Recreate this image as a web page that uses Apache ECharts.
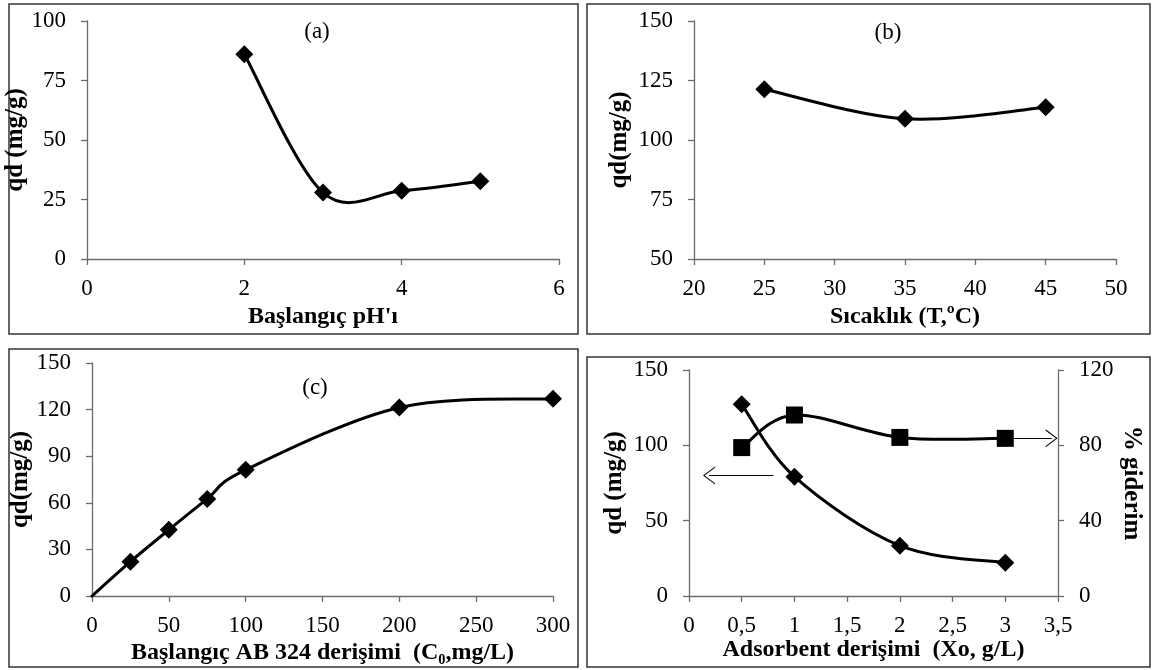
<!DOCTYPE html>
<html>
<head>
<meta charset="utf-8">
<script src="https://cdn.jsdelivr.net/npm/echarts@6/dist/echarts.min.js"></script>
<style>
  html, body { margin: 0; padding: 0; background: #fff; }
  #chart { width: 1155px; height: 670px; }
</style>
</head>
<body>
<div id="chart"></div>
<script>
// (a) başlangıç pH
const phX = [2, 3, 4, 5];
const phQ = [86, 27.9, 28.7, 32.7];
// (b) sıcaklık
const tempX = [25, 35, 45];
const tempQ = [121.3, 108.9, 113.8];
// (c) başlangıç AB 324 derişimi (first point has no marker)
const concX = [0, 25, 50, 75, 100, 200, 300];
const concQ = [0, 22.1, 42.6, 62.5, 81.2, 121.4, 127];
// (d) adsorbent derişimi
const doseX = [0.5, 1, 2, 3];
const doseQ = [127.2, 79.2, 33.4, 22.1];
const doseRemoval = [78.8, 96.1, 84.2, 83.7];

const font = 'Liberation Serif';
const axisColor = '#6b6b6b';
const comma = v => String(v).replace('.', ',');

function xAxis(grid, min, max, interval, name, gap, fmt) {
  return {
    type: 'value', gridIndex: grid, min, max, interval,
    name, nameLocation: 'middle', nameGap: gap,
    nameTextStyle: { fontFamily: font, fontWeight: 'bold', fontSize: 24, color: '#000' },
    axisLine: { onZero: false, lineStyle: { color: axisColor, width: 1.3 } },
    axisTick: { length: 6, lineStyle: { color: axisColor, width: 1.3 } },
    axisLabel: { fontFamily: font, fontSize: 23, color: '#000', margin: 18, formatter: fmt },
    splitLine: { show: false }
  };
}

function yAxis(grid, min, max, interval, name, gap, pos) {
  return {
    type: 'value', gridIndex: grid, min, max, interval, position: pos || 'left',
    name, nameLocation: 'middle', nameGap: gap,
    nameRotate: pos === 'right' ? -90 : 90,
    nameTextStyle: { fontFamily: font, fontWeight: 'bold', fontSize: 25, color: '#000' },
    axisLine: { show: true, onZero: false, lineStyle: { color: axisColor, width: 1.3 } },
    axisTick: { show: true, length: 6, lineStyle: { color: axisColor, width: 1.3 } },
    axisLabel: { fontFamily: font, fontSize: 23, color: '#000', margin: 21 },
    splitLine: { show: false }
  };
}

function pairs(xs, ys) {
  return xs.map((x, i) => [x, ys[i]]);
}

// smoothed connecting line (Catmull-Rom style bezier through the data points)
function curve(xi, yi, pts) {
  return {
    type: 'custom', xAxisIndex: xi, yAxisIndex: yi, data: pts,
    encode: { x: 0, y: 1 }, silent: true, z: 2,
    renderItem(params, api) {
      const i = params.dataIndex;
      if (i >= pts.length - 1) return null;
      const c = k => api.coord(pts[Math.max(0, Math.min(pts.length - 1, k))]);
      const p0 = c(i - 1), p1 = c(i), p2 = c(i + 1), p3 = c(i + 2);
      const t = 1 / 6;
      return {
        type: 'bezierCurve',
        shape: {
          x1: p1[0], y1: p1[1], x2: p2[0], y2: p2[1],
          cpx1: p1[0] + (p2[0] - p0[0]) * t, cpy1: p1[1] + (p2[1] - p0[1]) * t,
          cpx2: p2[0] - (p3[0] - p1[0]) * t, cpy2: p2[1] - (p3[1] - p1[1]) * t
        },
        style: { stroke: '#000', lineWidth: 3, fill: 'none', lineCap: 'round' }
      };
    }
  };
}

function markers(xi, yi, pts, symbol, size) {
  return {
    type: 'scatter', xAxisIndex: xi, yAxisIndex: yi, data: pts,
    symbol, symbolSize: size, itemStyle: { color: '#000', opacity: 1 }, z: 3, silent: true
  };
}

// chevron used as arrow head, tip at top
const chevron = 'path://M0,0 L10,13 L8.6,13 L0,1.8 L-8.6,13 L-10,13 Z';

function arrow(from, to) {
  return {
    silent: true, animation: false,
    symbol: ['none', chevron], symbolSize: [18, 12],
    lineStyle: { color: '#000', width: 1, type: 'solid' },
    label: { show: false },
    data: [[{ coord: from }, { coord: to }]]
  };
}

const removalMarks = markers(3, 4, pairs(doseX, doseRemoval), 'rect', 17);
removalMarks.markLine = arrow([3, doseRemoval[3]], [3.44, doseRemoval[3]]);
const doseMarks = markers(3, 3, pairs(doseX, doseQ), 'diamond', 18);
doseMarks.markLine = arrow([0.8, 80], [0.19, 80]);

const panels = [
  [9, 4, 569, 330], [587, 4, 563, 330],
  [9, 349, 569, 318], [587, 357, 563, 310]
];
const tags = [['(a)', 317, 32], ['(b)', 888, 33], ['(c)', 315, 388]];

const chart = echarts.init(document.getElementById('chart'));
chart.setOption({
  animation: false,
  backgroundColor: '#fff',
  grid: [
    { left: 87, top: 21, width: 472, height: 238, outerBoundsMode: 'none' },
    { left: 694, top: 21, width: 422, height: 238, outerBoundsMode: 'none' },
    { left: 92, top: 363, width: 461, height: 233, outerBoundsMode: 'none' },
    { left: 689, top: 370, width: 369, height: 226, outerBoundsMode: 'none' }
  ],
  xAxis: [
    xAxis(0, 0, 6, 2, "Başlangıç pH'ı", 46),
    xAxis(1, 20, 50, 5, 'Sıcaklık (T,ºC)', 46),
    xAxis(2, 0, 300, 50, 'Başlangıç AB 324 derişimi  (C\u2080,mg/L)', 45),
    xAxis(3, 0, 3.5, 0.5, 'Adsorbent derişimi  (Xo, g/L)', 40, comma)
  ],
  yAxis: [
    yAxis(0, 0, 100, 25, 'qd (mg/g)', 42),
    yAxis(1, 50, 150, 25, 'qd(mg/g)', 62),
    yAxis(2, 0, 150, 30, 'qd(mg/g)', 47),
    yAxis(3, 0, 150, 50, 'qd (mg/g)', 62),
    yAxis(3, 0, 120, 40, '% giderim', 61, 'right')
  ],
  series: [
    curve(0, 0, pairs(phX, phQ)),
    markers(0, 0, pairs(phX, phQ), 'diamond', 18),
    curve(1, 1, pairs(tempX, tempQ)),
    markers(1, 1, pairs(tempX, tempQ), 'diamond', 18),
    curve(2, 2, pairs(concX, concQ)),
    markers(2, 2, pairs(concX, concQ).slice(1), 'diamond', 18),
    curve(3, 3, pairs(doseX, doseQ)),
    doseMarks,
    curve(3, 4, pairs(doseX, doseRemoval)),
    removalMarks
  ],
  graphic: panels.map(p => ({
    type: 'rect', silent: true,
    shape: { x: p[0], y: p[1], width: p[2], height: p[3] },
    style: { fill: 'none', stroke: '#333', lineWidth: 1.5 }
  })).concat(tags.map(t => ({
    type: 'text', silent: true, x: t[1], y: t[2],
    style: { text: t[0], fontFamily: font, fontSize: 23, fill: '#000', align: 'center', verticalAlign: 'middle' }
  })))
});
</script>
</body>
</html>
